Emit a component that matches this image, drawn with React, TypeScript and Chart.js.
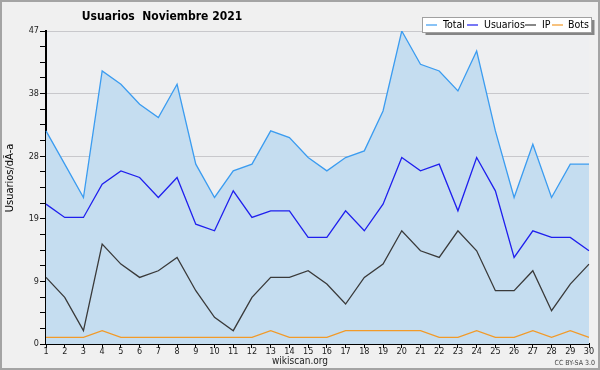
import React, { useEffect, useRef } from "react";
import { Chart, registerables } from "chart.js";

Chart.register(...registerables);

const days = ["1","2","3","4","5","6","7","8","9","10","11","12","13","14","15","16","17","18","19","20","21","22","23","24","25","26","27","28","29","30"];
const total = [32,27,22,41,39,36,34,39,27,22,26,27,32,31,28,26,28,29,35,47,42,41,38,44,32,22,30,22,27,27];
const usuarios = [21,19,19,24,26,25,22,25,18,17,23,19,20,20,16,16,20,17,21,28,26,27,20,28,23,13,17,16,16,14];
const ip = [10,7,2,15,12,10,11,13,8,4,2,7,10,10,11,9,6,10,12,17,14,13,17,14,8,8,11,5,9,12];
const bots = [1,1,1,2,1,1,1,1,1,1,1,1,2,1,1,1,2,2,2,2,2,1,1,2,1,1,2,1,2,1];

const yMax = 47;
const yTickCount = 21;

const titleText = "Usuarios  Noviembre 2021";
const yTitle = "Usuarios/dÃ-a";
const xTitle = "wikiscan.org";
const license = "CC BY-SA 3.0";
const legendNames = ["Total", "Usuarios", "IP", "Bots"];
const colors = ["#3b9cf0", "#1f1fee", "#3a3a3a", "#f29a28"];

const FONT = "'DejaVu Sans Condensed', 'DejaVu Sans', sans-serif";

const deco = {
  id: "deco",
  beforeDraw(chart: any) {
    const { ctx, chartArea: a, width, height } = chart;
    ctx.save();
    ctx.fillStyle = "#f0f0f0";
    ctx.fillRect(0, 0, width, height);
    ctx.fillStyle = "#eeeff1";
    ctx.fillRect(a.left, a.top, a.right - a.left, a.bottom - a.top);
    ctx.restore();
  },
  afterDraw(chart: any) {
    const { ctx, width, height } = chart;
    ctx.save();
    // outer frame
    ctx.strokeStyle = "#a4a4a4";
    ctx.lineWidth = 2;
    ctx.strokeRect(1, 1, width - 2, height - 2);

    // title
    ctx.fillStyle = "#000";
    ctx.font = `bold 12px ${FONT}`;
    ctx.textAlign = "center";
    ctx.textBaseline = "middle";
    ctx.fillText(titleText, 162, 17);

    // legend box with shadow
    ctx.fillStyle = "#858585";
    ctx.fillRect(425.5, 20, 169, 15);
    ctx.fillStyle = "#ffffff";
    ctx.fillRect(422.5, 17, 169, 15);
    ctx.strokeStyle = "#a0a0a0";
    ctx.lineWidth = 1;
    ctx.strokeRect(422.5, 17.5, 169, 15);

    const lineX = [426, 467, 525, 552];
    const textX = [443, 484, 542, 568];
    ctx.font = `10.5px ${FONT}`;
    ctx.textAlign = "left";
    ctx.textBaseline = "middle";
    for (let i = 0; i < legendNames.length; i++) {
      ctx.strokeStyle = colors[i];
      ctx.lineWidth = 1.2;
      ctx.beginPath();
      ctx.moveTo(lineX[i], 25);
      ctx.lineTo(lineX[i] + 11, 25);
      ctx.stroke();
      ctx.fillStyle = "#000";
      ctx.fillText(legendNames[i], textX[i], 25);
    }

    // y axis title
    ctx.save();
    ctx.translate(10, 178);
    ctx.rotate(-Math.PI / 2);
    ctx.font = `11px ${FONT}`;
    ctx.textAlign = "center";
    ctx.textBaseline = "middle";
    ctx.fillStyle = "#000";
    ctx.fillText(yTitle, 0, 0);
    ctx.restore();

    // x title
    ctx.font = `10px ${FONT}`;
    ctx.textAlign = "center";
    ctx.textBaseline = "middle";
    ctx.fillStyle = "#222";
    ctx.fillText(xTitle, 300, 361);

    // license
    ctx.font = `7px ${FONT}`;
    ctx.textAlign = "right";
    ctx.fillStyle = "#444";
    ctx.fillText(license, 595, 363);
    ctx.restore();
  },
};

export default function App() {
  const ref = useRef<HTMLCanvasElement>(null);
  useEffect(() => {
    if (!ref.current) return;
    const chart = new Chart(ref.current, {
      type: "line",
      data: {
        labels: days,
        datasets: [
          { label: legendNames[0], data: total, order: 4, borderColor: colors[0], backgroundColor: "#c5ddf0", fill: "origin", borderWidth: 1.3, pointRadius: 0, tension: 0 },
          { label: legendNames[1], data: usuarios, order: 3, borderColor: colors[1], borderWidth: 1.3, pointRadius: 0, fill: false, tension: 0 },
          { label: legendNames[2], data: ip, order: 2, borderColor: colors[2], borderWidth: 1.3, pointRadius: 0, fill: false, tension: 0 },
          { label: legendNames[3], data: bots, order: 1, borderColor: colors[3], borderWidth: 1.3, pointRadius: 0, fill: false, tension: 0 },
        ],
      },
      options: {
        responsive: false,
        animation: false,
        devicePixelRatio: 1,
        layout: { padding: { top: 31, right: 11, left: 0, bottom: 0 } },
        plugins: { legend: { display: false }, title: { display: false }, tooltip: { enabled: false } },
        scales: {
          x: {
            type: "category",
            offset: false,
            border: { display: true, color: "#000", width: 2 },
            grid: { drawOnChartArea: false, tickLength: 4, tickColor: "#000", lineWidth: 1 },
            ticks: { autoSkip: false, maxRotation: 0, padding: -2, color: "#222", font: { family: FONT, size: 9 } },
            afterFit: (s: any) => { s.height = 26; },
          },
          y: {
            type: "linear",
            min: 0,
            max: yMax,
            border: { display: true, color: "#000", width: 2 },
            grid: {
              color: (c: any) => (c.index % 4 === 0 ? "#c8c8cc" : "rgba(0,0,0,0)"),
              tickColor: "#000",
              tickLength: 6,
              lineWidth: 1,
            },
            ticks: {
              count: yTickCount,
              autoSkip: false,
              padding: 1,
              color: "#222",
              font: { family: FONT, size: 9 },
              callback: (v: any, i: number) => (i % 4 === 0 ? String(Math.round(Number(v))) : ""),
            },
            afterFit: (s: any) => { s.width = 46; },
          },
        },
      },
      plugins: [deco],
    });
    return () => chart.destroy();
  }, []);
  return (
    <div style={{ position: "absolute", left: 0, top: 0, width: 600, height: 370 }}>
      <canvas ref={ref} width={600} height={370} style={{ display: "block", width: 600, height: 370 }} />
    </div>
  );
}
